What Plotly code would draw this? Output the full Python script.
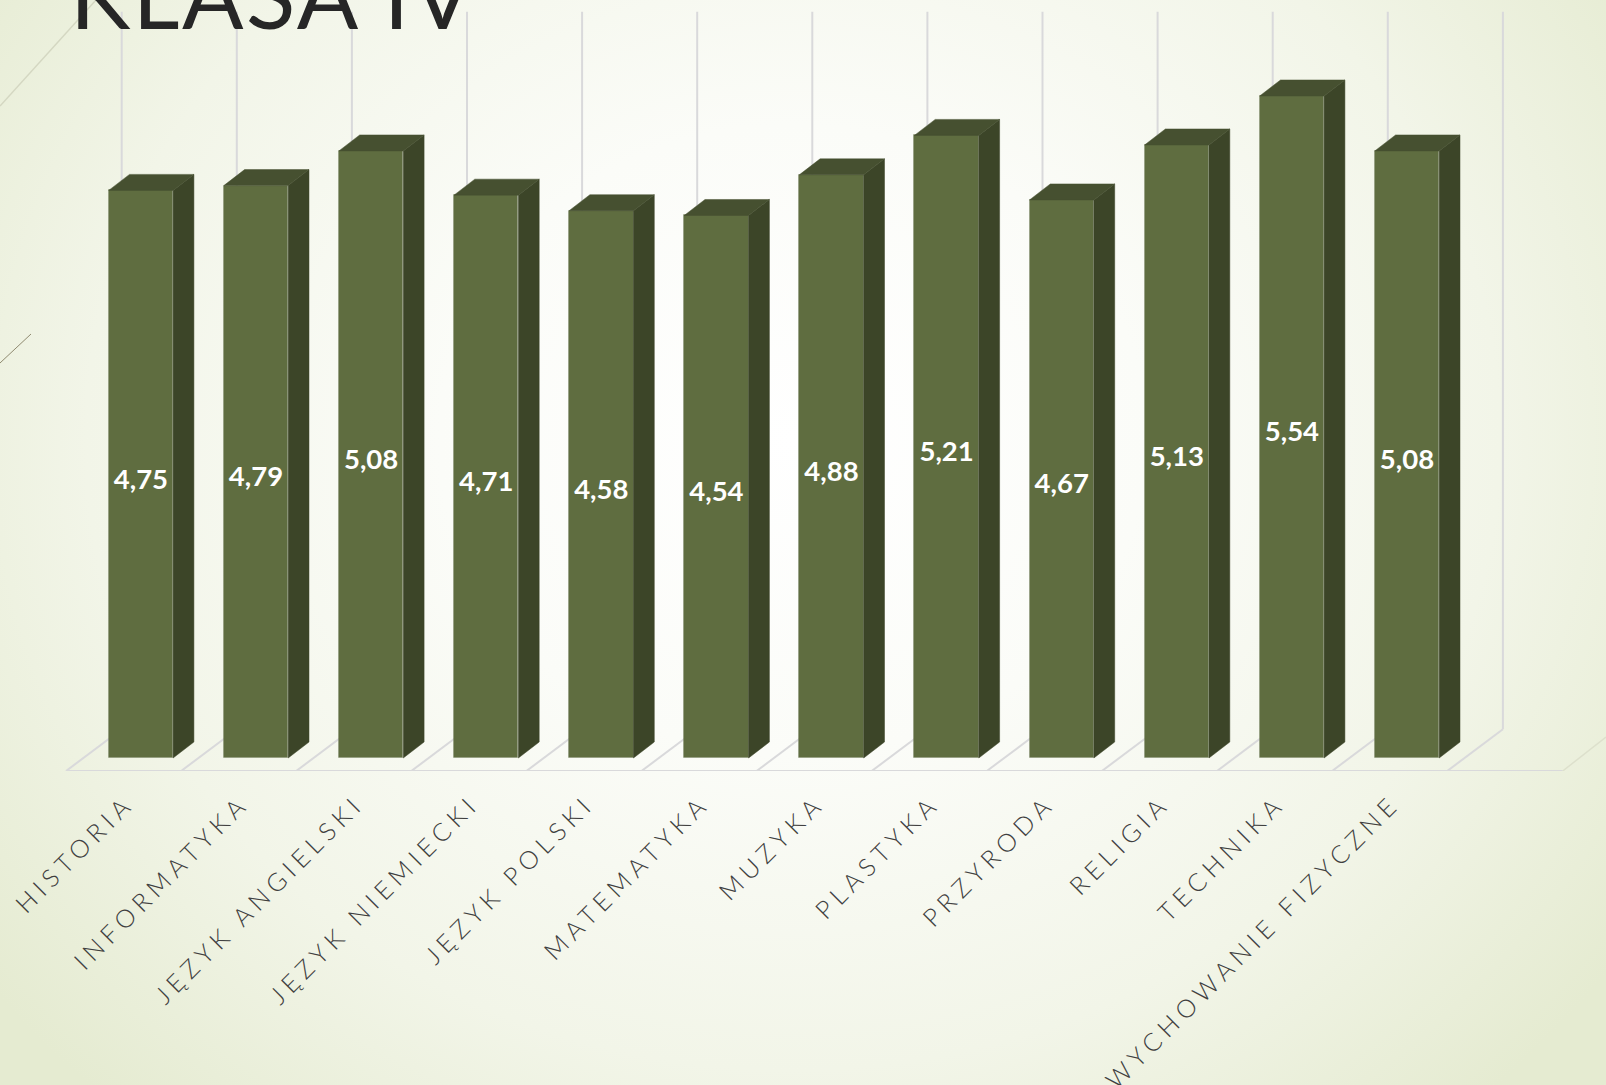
import base64
import plotly.graph_objects as go

# ---- data -----------------------------------------------------------------
categories = ["HISTORIA", "INFORMATYKA", "JĘZYK ANGIELSKI", "JĘZYK NIEMIECKI", "JĘZYK POLSKI",
              "MATEMATYKA", "MUZYKA", "PLASTYKA", "PRZYRODA", "RELIGIA", "TECHNIKA",
              "WYCHOWANIE FIZYCZNE"]
values = [4.75, 4.79, 5.08, 4.71, 4.58, 4.54, 4.88, 5.21, 4.67, 5.13, 5.54, 5.08]
title_text = "KLASA IV"

# ---- page geometry --------------------------------------------------------
W, H = 1606, 1085
PITCH, X0 = 115.1, 140.9        # px per category, px of first category
UNIT, Y0 = 119.5, 758.0         # px per value unit, px of value 0
FLOOR_PX = 771.0                # plot bottom = front edge of floor


def xd(px):
    return (px - X0) / PITCH


def yd(px):
    return (Y0 - px) / UNIT


idx = list(range(len(categories)))
bar_w = 64.4 / PITCH
dx, dy = 20.8 / PITCH, 16 / UNIT

FRONT, SIDE, TOP = "#5F6D40", "#3C4528", "#465030"
GRID = "#D9D9DB"

# ---- background -----------------------------------------------------------
svg = f'''<svg xmlns="http://www.w3.org/2000/svg" width="{W}" height="{H}" viewBox="0 0 {W} {H}">
<defs><radialGradient id="g" gradientUnits="userSpaceOnUse" cx="0" cy="0" r="1"
 gradientTransform="translate({W/2-10} 440) scale(1010 900)">
<stop offset="0" stop-color="#FFFFFF"/><stop offset="0.35" stop-color="#FBFCF8"/>
<stop offset="0.7" stop-color="#F2F5E8"/><stop offset="1" stop-color="#E5EBD1"/></radialGradient></defs>
<rect width="{W}" height="{H}" fill="url(#g)"/></svg>'''
bg = "data:image/svg+xml;base64," + base64.b64encode(svg.encode()).decode()


def line(x0, y0, x1, y1, color, width, layer="below"):
    return dict(type="line", xref="x", yref="y", x0=xd(x0), y0=yd(y0), x1=xd(x1), y1=yd(y1),
                line=dict(color=color, width=width), layer=layer)


shapes = []
for k in range(13):
    front = 66 + PITCH * k
    back = 121.7 + PITCH * k
    shapes.append(line(front, FLOOR_PX, back, 729.3, GRID, 2))
    shapes.append(line(back, 729.3, back, 11.7, GRID, 2))
shapes.append(line(66, FLOOR_PX, 1562.7, FLOOR_PX, GRID, 2))
# slide decoration lines
shapes.append(line(1562.7, FLOOR_PX, 1606, 737, "#DDE0CC", 1.5))
shapes.append(line(0, 106, 96, 0, "#D4D7C2", 1.5))
shapes.append(line(0, 363, 31, 334, "#8F8A70", 1))

# ---- traces ---------------------------------------------------------------
side_x, side_y, top_x, top_y = [], [], [], []
for i, v in zip(idx, values):
    l, r = i - bar_w / 2, i + bar_w / 2
    side_x += [r, r + dx, r + dx, r, r, None]
    side_y += [0, dy, v + dy, v, 0, None]
    top_x += [l, l + dx, r + dx, r, l, None]
    top_y += [v, v + dy, v + dy, v, v, None]

fig = go.Figure()
fig.add_trace(go.Bar(
    x=idx, y=values, width=bar_w, marker=dict(color=FRONT, line=dict(color="rgba(120,132,100,0.35)", width=1)),
    hoverinfo="skip", showlegend=False))
for xs, ys, col in ((side_x, side_y, SIDE), (top_x, top_y, TOP)):
    fig.add_trace(go.Scatter(x=xs, y=ys, mode="lines", fill="toself", fillcolor=col,
                             line=dict(color=col, width=0.5), hoverinfo="skip", showlegend=False))
fig.add_trace(go.Scatter(
    x=idx, y=[v / 2 - 7.5 / UNIT for v in values], mode="text",
    text=[f"{v:.2f}".replace(".", ",") for v in values], textposition="middle center",
    textfont=dict(family="Lato", size=27.5, color="#FFFFFF", weight=700),
    hoverinfo="skip", showlegend=False, cliponaxis=False))

fig.update_layout(
    width=W, height=H, autosize=False,
    margin=dict(l=0, r=0, t=0, b=H - FLOOR_PX, pad=0),
    paper_bgcolor="#F6F8EE", plot_bgcolor="rgba(0,0,0,0)",
    title=dict(text=title_text, x=70 / W, xanchor="left", xref="container",
               y=1 - 28.5 / H, yref="container", yanchor="bottom",
               font=dict(family="Lato", size=91, color="#262626")),
    xaxis=dict(range=[xd(0), xd(W)], tickmode="array", tickvals=idx, ticktext=categories,
               tickangle=-45, ticks="", showgrid=False, zeroline=False, showline=False,
               tickfont=dict(family="Lato", size=25, color="#404040", weight=300),
               ticklabelstandoff=12, ticklabelshift=-14, fixedrange=True),
    yaxis=dict(range=[yd(FLOOR_PX), yd(0)], visible=False, fixedrange=True),
    images=[dict(source=bg, xref="paper", yref="paper", x=0, y=1, sizex=1, sizey=H / FLOOR_PX,
                 sizing="stretch", xanchor="left", yanchor="top", layer="below")],
    shapes=shapes, bargap=0,
)

post = """
document.documentElement.style.margin='0';document.body.style.margin='0';document.body.style.overflow='hidden';
document.querySelectorAll('.xtick text').forEach(function(t){t.style.letterSpacing='5.6px';});
document.querySelectorAll('.gtitle').forEach(function(t){t.style.letterSpacing='2.5px';});
"""
fig.write_html("out.html", post_script=post, config=dict(displayModeBar=False))
